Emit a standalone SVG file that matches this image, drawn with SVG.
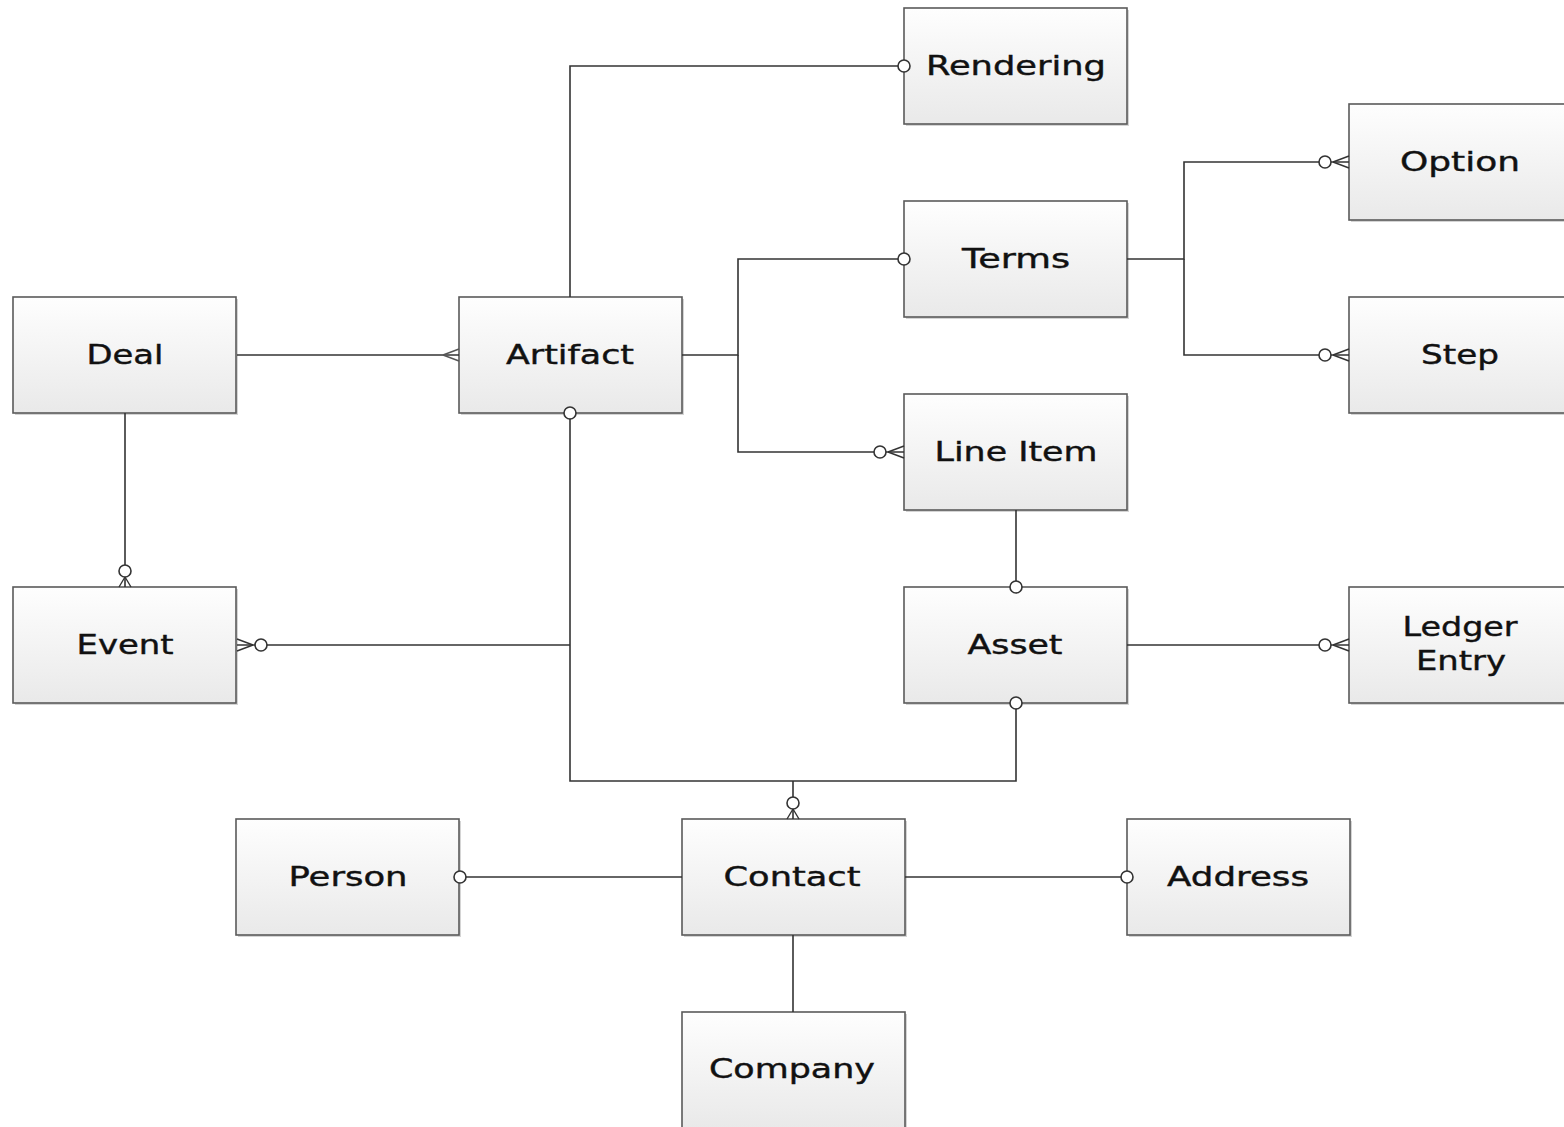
<svg xmlns="http://www.w3.org/2000/svg" width="1564" height="1127" viewBox="0 0 1564 1127">
<style>
.box rect.b{fill:url(#g);stroke:#5a5a5a;stroke-width:1.6}
.box rect.s{fill:#d4d4d4}
.box text{font-family:"DejaVu Sans","Liberation Sans",sans-serif;font-size:26px;fill:#111;stroke:#111;stroke-width:0.4;text-anchor:middle}
#connectors path{fill:none;stroke:#333;stroke-width:1.6}
</style>
<defs>
<linearGradient id="g" x1="0" y1="0" x2="0" y2="1">
<stop offset="0" stop-color="#fefefe"/>
<stop offset="1" stop-color="#e9e9e9"/>
</linearGradient>
<marker id="one" markerUnits="userSpaceOnUse" orient="auto" refX="0" refY="0" markerWidth="30" markerHeight="30" viewBox="-15 -15 30 30" overflow="visible">
<circle cx="0" cy="0" r="6" fill="#fff" stroke="#333" stroke-width="1.6"/>
</marker>
<marker id="many" markerUnits="userSpaceOnUse" orient="auto" refX="0" refY="0" markerWidth="40" markerHeight="30" viewBox="-30 -15 40 30" overflow="visible">
<path d="M-16,0 L0,-6 M-16,0 L0,6" fill="none" stroke="#555" stroke-width="1.4"/>
</marker>
<marker id="zm" markerUnits="userSpaceOnUse" orient="auto" refX="0" refY="0" markerWidth="50" markerHeight="30" viewBox="-40 -15 50 30" overflow="visible">
<path d="M-16,0 L0,-6 M-16,0 L0,6" fill="none" stroke="#333" stroke-width="1.4"/>
<circle cx="-24" cy="0" r="6" fill="#fff" stroke="#333" stroke-width="1.6"/>
</marker>
<marker id="zmv" markerUnits="userSpaceOnUse" orient="auto" refX="0" refY="0" markerWidth="50" markerHeight="30" viewBox="-40 -15 50 30" overflow="visible">
<path d="M-10,0 L0,-6 M-10,0 L0,6" fill="none" stroke="#333" stroke-width="1.4"/>
<circle cx="-16" cy="0" r="6" fill="#fff" stroke="#333" stroke-width="1.6"/>
</marker>
</defs>
<rect width="1564" height="1127" fill="#fff"/>
<g id="node-rendering" class="box"><rect class="s" x="906" y="10" width="223" height="116"/><rect class="b" x="904" y="8" width="223" height="116"/><text x="1016" y="75" textLength="180" lengthAdjust="spacingAndGlyphs">Rendering</text></g>
<g id="node-option" class="box"><rect class="s" x="1351" y="106" width="223" height="116"/><rect class="b" x="1349" y="104" width="223" height="116"/><text x="1460" y="171" textLength="120" lengthAdjust="spacingAndGlyphs">Option</text></g>
<g id="node-terms" class="box"><rect class="s" x="906" y="203" width="223" height="116"/><rect class="b" x="904" y="201" width="223" height="116"/><text x="1016" y="268" textLength="108" lengthAdjust="spacingAndGlyphs">Terms</text></g>
<g id="node-deal" class="box"><rect class="s" x="15" y="299" width="223" height="116"/><rect class="b" x="13" y="297" width="223" height="116"/><text x="125" y="364" textLength="77" lengthAdjust="spacingAndGlyphs">Deal</text></g>
<g id="node-artifact" class="box"><rect class="s" x="461" y="299" width="223" height="116"/><rect class="b" x="459" y="297" width="223" height="116"/><text x="570" y="364" textLength="128" lengthAdjust="spacingAndGlyphs">Artifact</text></g>
<g id="node-step" class="box"><rect class="s" x="1351" y="299" width="223" height="116"/><rect class="b" x="1349" y="297" width="223" height="116"/><text x="1460" y="364" textLength="78" lengthAdjust="spacingAndGlyphs">Step</text></g>
<g id="node-lineitem" class="box"><rect class="s" x="906" y="396" width="223" height="116"/><rect class="b" x="904" y="394" width="223" height="116"/><text x="1016" y="461" textLength="163" lengthAdjust="spacingAndGlyphs">Line Item</text></g>
<g id="node-event" class="box"><rect class="s" x="15" y="589" width="223" height="116"/><rect class="b" x="13" y="587" width="223" height="116"/><text x="125" y="654" textLength="97" lengthAdjust="spacingAndGlyphs">Event</text></g>
<g id="node-asset" class="box"><rect class="s" x="906" y="589" width="223" height="116"/><rect class="b" x="904" y="587" width="223" height="116"/><text x="1015" y="654" textLength="95" lengthAdjust="spacingAndGlyphs">Asset</text></g>
<g id="node-ledgerentry" class="box"><rect class="s" x="1351" y="589" width="223" height="116"/><rect class="b" x="1349" y="587" width="223" height="116"/><text x="1460" y="636" textLength="115" lengthAdjust="spacingAndGlyphs">Ledger</text><text x="1461" y="670" textLength="90" lengthAdjust="spacingAndGlyphs">Entry</text></g>
<g id="node-person" class="box"><rect class="s" x="238" y="821" width="223" height="116"/><rect class="b" x="236" y="819" width="223" height="116"/><text x="348" y="886" textLength="119" lengthAdjust="spacingAndGlyphs">Person</text></g>
<g id="node-contact" class="box"><rect class="s" x="684" y="821" width="223" height="116"/><rect class="b" x="682" y="819" width="223" height="116"/><text x="792" y="886" textLength="137" lengthAdjust="spacingAndGlyphs">Contact</text></g>
<g id="node-address" class="box"><rect class="s" x="1129" y="821" width="223" height="116"/><rect class="b" x="1127" y="819" width="223" height="116"/><text x="1238" y="886" textLength="142" lengthAdjust="spacingAndGlyphs">Address</text></g>
<g id="node-company" class="box"><rect class="s" x="684" y="1014" width="223" height="116"/><rect class="b" x="682" y="1012" width="223" height="116"/><text x="792" y="1078" textLength="166" lengthAdjust="spacingAndGlyphs">Company</text></g>
<g id="connectors">
<path d="M570,297 V66 H904" marker-end="url(#one)"/>
<path d="M237,355 H459" marker-end="url(#many)"/>
<path d="M682,355 H738 V259 H904" marker-end="url(#one)"/>
<path d="M738,355 V452 H904" marker-end="url(#zm)"/>
<path d="M1127,259 H1184 V162 H1349" marker-end="url(#zm)"/>
<path d="M1184,259 V355 H1349" marker-end="url(#zm)"/>
<path d="M125,413 V587" marker-end="url(#zmv)"/>
<path d="M1016,703 V781 H570 V413" marker-start="url(#one)" marker-end="url(#one)"/>
<path d="M570,645 H237" marker-end="url(#zm)"/>
<path d="M793,781 V819" marker-end="url(#zmv)"/>
<path d="M1016,510 V587" marker-end="url(#one)"/>
<path d="M1127,645 H1349" marker-end="url(#zm)"/>
<path d="M682,877 H460" marker-end="url(#one)"/>
<path d="M905,877 H1127" marker-end="url(#one)"/>
<path d="M793,935 V1012"/>
</g>
</svg>
